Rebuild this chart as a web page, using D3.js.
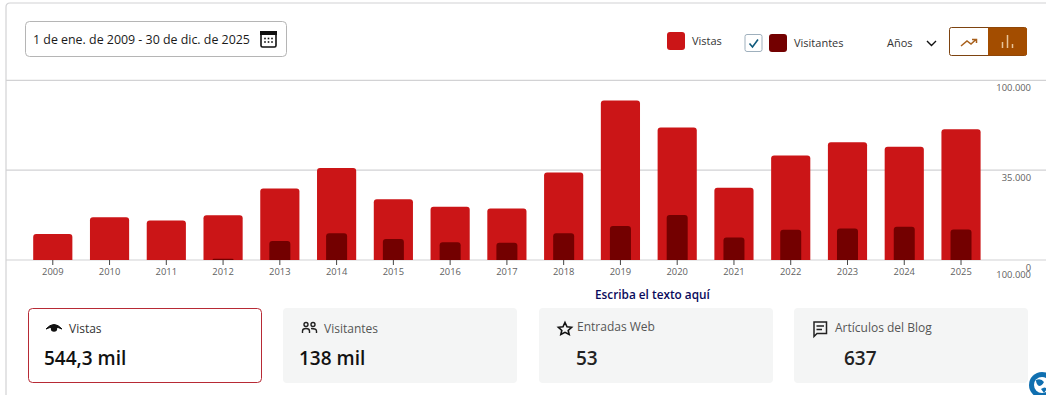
<!DOCTYPE html>
<html><head><meta charset="utf-8">
<script src="https://cdn.jsdelivr.net/npm/d3@7"></script>
<style>
html,body{margin:0;padding:0;background:#fff}
svg{display:block}
text{font-family:"Open Sans","Noto Sans",sans-serif}
</style></head><body>
<svg id="c" width="1046" height="395"></svg>
<script>
const years=["2009","2010","2011","2012","2013","2014","2015","2016","2017","2018","2019","2020","2021","2022","2023","2024","2025"];
const vistas=[10100,16700,15400,17400,27900,35800,23700,20700,20100,34100,62100,51600,28100,40700,45900,44100,50900];
const visitantes=[0,0,0,500,7400,10400,8200,6900,6700,10400,13200,17500,8800,11800,12300,13000,11900];
const yTicks=[0,35000,70000];
const yTickLabels=["0","35.000","100.000"];
const cards=[
 {label:"Vistas",value:"544,3 mil",x:28,lx:69,vx:44,ly:333,active:true},
 {label:"Visitantes",value:"138 mil",x:283,lx:324,vx:299,ly:333},
 {label:"Entradas Web",value:"53",x:539,lx:577,vx:576,ly:331},
 {label:"Artículos del Blog",value:"637",x:794,lx:835,vx:844,ly:332}
];
const svg=d3.select("#c");
const x=d3.scaleBand().domain(years).range([24.4,989.4]).paddingInner(0.31).paddingOuter(0.155);
const y=d3.scaleLinear().domain([0,70000]).range([260,80.3]);
const GRID="#d2d2d4";
const AXIS="#5f5f5f";

// frame
svg.append("path").attr("d","M6,395V7Q6,3 10,3H1046").attr("fill","none").attr("stroke",GRID).attr("stroke-width",1.2);

// grid
svg.append("g").selectAll("line").data(yTicks).join("line")
 .attr("x1",6).attr("x2",1046).attr("y1",d=>y(d)).attr("y2",d=>y(d))
 .attr("stroke",GRID).attr("stroke-width",1.2);

// y labels
svg.append("g").selectAll("text").data(yTicks).join("text")
 .attr("x",1031).attr("y",d=>y(d)+10.5).attr("text-anchor","end")
 .attr("font-size",9.4).attr("fill",AXIS).text((d,i)=>yTickLabels[i]);
svg.append("text").attr("x",1031).attr("y",277.5).attr("text-anchor","end").attr("font-size",9.4).attr("fill",AXIS).text("100.000");

// x axis
const xAxis=d3.axisBottom(x).tickSize(5).tickPadding(3);
const gx=svg.append("g").attr("transform","translate(0,260)").call(xAxis);
gx.select(".domain").remove();
gx.selectAll(".tick line").attr("stroke","#444");
gx.selectAll(".tick text").attr("font-size",9.4).attr("fill",AXIS).attr("font-family",'"Open Sans",sans-serif');

// bars
const topRound=(x0,y0,w,h,r)=>{r=Math.min(r,h);return `M${x0},${y0+h}V${y0+r}Q${x0},${y0} ${x0+r},${y0}H${x0+w-r}Q${x0+w},${y0} ${x0+w},${y0+r}V${y0+h}Z`;};
svg.append("g").selectAll("path").data(years).join("path")
 .attr("fill","#cb1517")
 .attr("d",(d,i)=>topRound(x(d),y(vistas[i]),x.bandwidth(),260-y(vistas[i]),3));
const dw=21;
svg.append("g").selectAll("path").data(years.filter((d,i)=>visitantes[i]>0)).join("path")
 .attr("fill","#730000")
 .attr("d",d=>{const i=years.indexOf(d);return topRound(x(d)+(x.bandwidth()-dw)/2,y(visitantes[i]),dw,260-y(visitantes[i]),3);});

// date picker
svg.append("rect").attr("x",25.5).attr("y",21.5).attr("width",261).attr("height",35).attr("rx",4).attr("fill","#fff").attr("stroke","#b5b5b5");
svg.append("text").attr("x",33).attr("y",44).attr("font-size",12.4).attr("fill","#1a1a1a").text("1 de ene. de 2009 - 30 de dic. de 2025");
const cal=svg.append("g");
cal.append("rect").attr("x",261).attr("y",32).attr("width",15).attr("height",15).attr("rx",1.5).attr("fill","#fff").attr("stroke","#111").attr("stroke-width",1.6);
cal.append("rect").attr("x",260).attr("y",31).attr("width",17).attr("height",4).attr("fill","#111");
[[265,38.5],[268.5,38.5],[272,38.5],[265,42],[268.5,42],[272,42]].forEach(p=>cal.append("rect").attr("x",p[0]-.8).attr("y",p[1]-.8).attr("width",1.6).attr("height",1.6).attr("fill","#111"));

// legend
svg.append("rect").attr("x",667).attr("y",32).attr("width",18).attr("height",18).attr("rx",3).attr("fill","#cb1517");
svg.append("text").attr("x",692).attr("y",45).attr("font-size",11).attr("fill","#333").text("Vistas");
svg.append("rect").attr("x",745).attr("y",34.5).attr("width",17).attr("height",17).attr("rx",2).attr("fill","#fff").attr("stroke","#9fb0bd");
svg.append("path").attr("d","M749.5,43.5L752.5,47L758,39.5").attr("fill","none").attr("stroke","#0f5a7c").attr("stroke-width",1.6);
svg.append("rect").attr("x",769).attr("y",34).attr("width",18).attr("height",18).attr("rx",3).attr("fill","#730000");
svg.append("text").attr("x",794).attr("y",47).attr("font-size",11).attr("fill","#333").text("Visitantes");
svg.append("text").attr("x",887).attr("y",47).attr("font-size",11).attr("fill","#333").text("Años");
svg.append("path").attr("d","M927,41L931.5,45.5L936,41").attr("fill","none").attr("stroke","#111").attr("stroke-width",1.4);

// toggle
svg.append("rect").attr("x",949.5).attr("y",27.5).attr("width",77).attr("height",28).attr("rx",2).attr("fill","#fff").attr("stroke","#7d4310");
svg.append("path").attr("d","M988,27.5H1025Q1027,27.5 1027,29.5V53.5Q1027,55.5 1025,55.5H988Z").attr("fill","#a34d00");
svg.append("path").attr("d","M961,46L967,41L971,44L976,39.5M972,39.5H976.5V43").attr("fill","none").attr("stroke","#a8601c").attr("stroke-width",1.5);
[[1002.5,42,48],[1007.5,35,48],[1012.5,44,48]].forEach(b=>svg.append("line").attr("x1",b[0]).attr("x2",b[0]).attr("y1",b[1]).attr("y2",b[2]).attr("stroke","#e8c49a").attr("stroke-width",1.5));

// note
svg.append("text").attr("x",595).attr("y",299).attr("font-size",11.8).attr("font-weight",600).attr("fill","#0a0a5c").text("Escriba el texto aquí");

// cards
const cg=svg.append("g").selectAll("g").data(cards).join("g");
cg.append("rect").attr("x",d=>d.x+(d.active?.5:0)).attr("y",d=>d.active?308.5:308).attr("width",d=>d.active?233:234).attr("height",d=>d.active?74:75).attr("rx",4)
 .attr("fill",d=>d.active?"#fff":"#f4f5f5").attr("stroke",d=>d.active?"#b72a35":"none");
cg.append("text").attr("x",d=>d.lx).attr("y",d=>d.ly).attr("font-size",12).attr("fill",d=>d.active?"#333":"#555").text(d=>d.label);
cg.append("text").attr("x",d=>d.vx).attr("y",365).attr("font-size",19).attr("font-weight",600).attr("fill",d=>d.active||d.value==="138 mil"?"#111":"#222").text(d=>d.value);

// card icons
svg.append("path").attr("d","M46,329Q54,320 62,329Q54,325 46,329Z").attr("fill","#111").attr("stroke","#111");
svg.append("circle").attr("cx",54).attr("cy",328.5).attr("r",3.2).attr("fill","#111");
const ppl=svg.append("g").attr("fill","none").attr("stroke","#222").attr("stroke-width",1.4);
ppl.append("circle").attr("cx",306).attr("cy",324.5).attr("r",2);
ppl.append("circle").attr("cx",313).attr("cy",324.5).attr("r",2);
ppl.append("path").attr("d","M302.5,333V331Q302.5,328.5 306,328.5Q309.5,328.5 309.5,331V333M311,328.5Q316.5,328.5 316.5,331V333");
svg.append("path").attr("d","M565,322.5L567,326.8L571.6,327.3L568.2,330.4L569.2,334.5L565,332.4L560.8,334.5L561.8,330.4L558.4,327.3L563,326.8Z").attr("fill","none").attr("stroke","#111").attr("stroke-width",1.6);
svg.append("path").attr("d","M814,322H826.5V333.5H817L814,336.5Z").attr("fill","none").attr("stroke","#222").attr("stroke-width",1.5);
svg.append("path").attr("d","M816.5,326H824M816.5,329.5H822").attr("stroke","#222").attr("stroke-width",1.3);

// globe badge
svg.append("circle").attr("cx",1042).attr("cy",385).attr("r",13).attr("fill","#0f6fb0");
svg.append("circle").attr("cx",1042).attr("cy",385).attr("r",8).attr("fill","#fff");
svg.append("path").attr("d","M1036,380Q1041,378 1044,382Q1042,386 1039,386Q1036,384 1036,380ZM1041,389Q1045,386 1047,389L1044,393Z").attr("fill","#0f6fb0");
</script></body></html>
